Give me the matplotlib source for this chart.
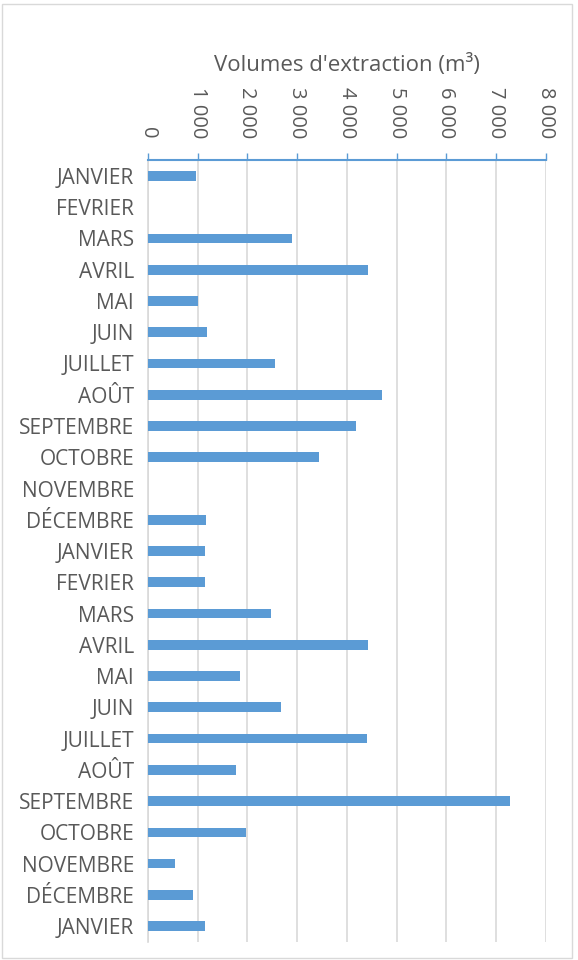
import matplotlib
matplotlib.use("Agg")
import matplotlib.pyplot as plt
from matplotlib.patches import Rectangle
from matplotlib.ticker import FuncFormatter

# monthly extraction volumes, read top to bottom
months = [
    "JANVIER", "FEVRIER", "MARS", "AVRIL", "MAI", "JUIN", "JUILLET",
    "AOÛT", "SEPTEMBRE", "OCTOBRE", "NOVEMBRE", "DÉCEMBRE",
    "JANVIER", "FEVRIER", "MARS", "AVRIL", "MAI", "JUIN", "JUILLET",
    "AOÛT", "SEPTEMBRE", "OCTOBRE", "NOVEMBRE", "DÉCEMBRE", "JANVIER",
]
volumes = [
    970, 0, 2900, 4420, 1000, 1180, 2560, 4700, 4190, 3450, 0, 1170,
    1150, 1150, 2470, 4430, 1850, 2680, 4400, 1770, 7280, 1980, 550, 910,
    1150,
]
x_ticks = [0, 1000, 2000, 3000, 4000, 5000, 6000, 7000, 8000]

bar_color = "#5b9bd5"
text_color = "#595959"
grid_color = "#d9d9d9"

plt.rcParams["font.family"] = ["Open Sans", "DejaVu Sans"]

fig = plt.figure(figsize=(5.78, 9.6), dpi=100)
ax = fig.add_axes([0.256, 0.019, 0.688, 0.814])

ypos = list(range(len(months)))
ax.barh(ypos, volumes, height=0.31, color=bar_color, zorder=3)

ax.set_ylim(len(months) - 0.5, -0.5)
ax.set_yticks(ypos)
ax.set_yticklabels(months, fontsize=15, color=text_color)
ax.tick_params(axis="y", length=0, pad=10)

ax.set_xlim(0, 8000)
ax.set_xticks(x_ticks)
ax.xaxis.set_major_formatter(FuncFormatter(lambda v, p: f"{int(v):,}".replace(",", " ")))
ax.xaxis.tick_top()
ax.xaxis.set_label_position("top")
ax.tick_params(axis="x", direction="out", length=5, color=bar_color, width=1,
               labelsize=14.5, labelcolor=text_color, pad=11)
for lbl in ax.get_xticklabels():
    lbl.set_rotation(-90)
    lbl.set_va("bottom")
    lbl.set_ha("center")

ax.set_xlabel("Volumes d'extraction (m³)", fontsize=16, color=text_color, labelpad=11)

ax.grid(axis="x", color=grid_color, linewidth=1.2, zorder=0)
ax.grid(axis="y", visible=False)
for side in ["right", "bottom"]:
    ax.spines[side].set_visible(False)
ax.spines["left"].set_color(grid_color)
ax.spines["left"].set_linewidth(1.2)
ax.spines["top"].set_color(bar_color)
ax.spines["top"].set_linewidth(1.5)

# light chart border
fig.patches.append(Rectangle((0.004, 0.002), 0.986, 0.994, transform=fig.transFigure,
                             fill=False, edgecolor=grid_color, linewidth=1))

fig.savefig("out.png", dpi=100)
